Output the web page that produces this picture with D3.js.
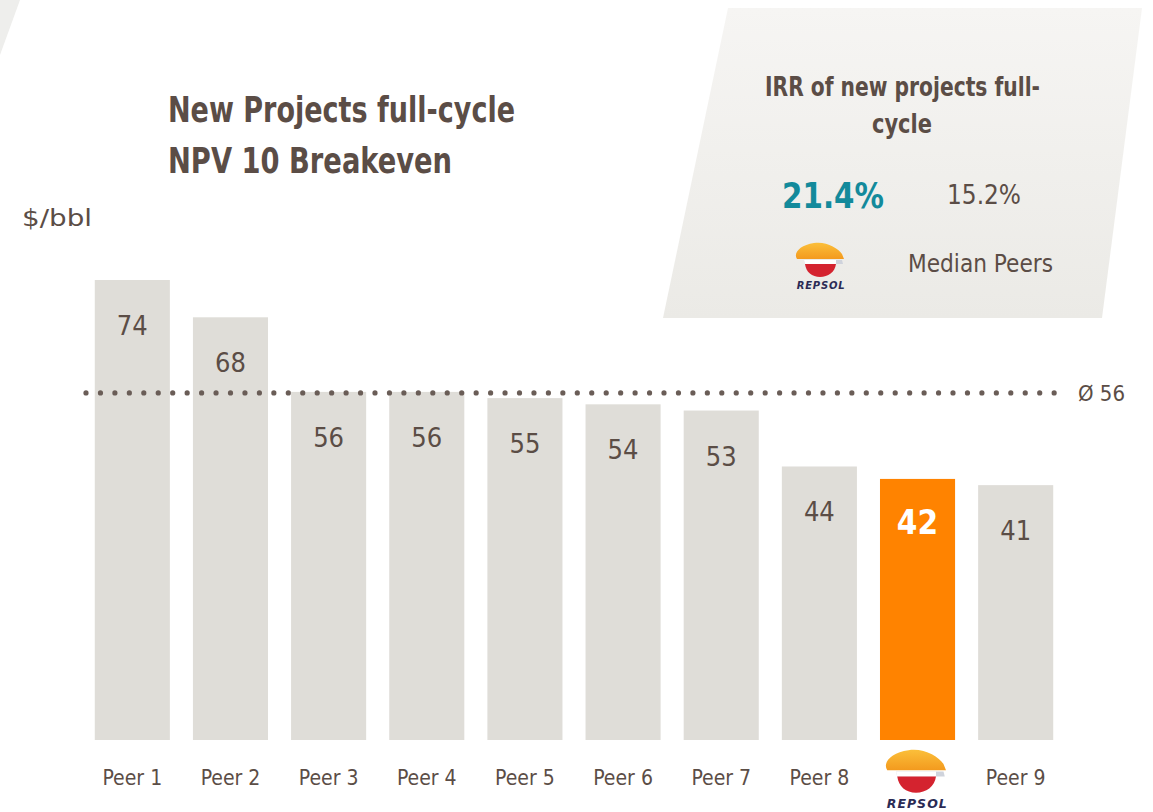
<!DOCTYPE html>
<html>
<head>
<meta charset="utf-8">
<script src="https://cdn.jsdelivr.net/npm/d3@7"></script>
<style>
  body { margin: 0; background: #fff; }
  text { font-family: "DejaVu Sans Condensed", "Liberation Sans", sans-serif; }
</style>
</head>
<body>
<div id="chart"></div>
<script>
// data
const categories = ["Peer 1", "Peer 2", "Peer 3", "Peer 4", "Peer 5", "Peer 6", "Peer 7", "Peer 8", "Repsol", "Peer 9"];
const breakeven = [74, 68, 56, 56, 55, 54, 53, 44, 42, 41];
const averageValue = 56;
const irrRepsol = "21.4%";
const irrMedian = "15.2%";

const W = 1153, H = 812;
const textColor = "#5b4d46";

var svg = d3.select("#chart").append("svg").attr("width", W).attr("height", H);

// helper for squeezed text
function label(x, y, txt, size, len, opts) {
  opts = opts || {};
  var t = svg.append("text")
    .attr("x", x).attr("y", y)
    .attr("font-size", size)
    .attr("font-weight", opts.bold ? "bold" : "normal")
    .attr("fill", opts.color || textColor)
    .attr("text-anchor", opts.anchor || "start")
    .text(txt);
  if (len) t.attr("textLength", len).attr("lengthAdjust", "spacingAndGlyphs");
  return t;
}

// background shapes
svg.append("path")
  .attr("d", "M0,0 L20,0 L0,55 Z")
  .attr("fill", "#eeeeec");

var grad = svg.append("defs").append("linearGradient")
  .attr("id", "boxgrad").attr("x1", 0).attr("y1", 0).attr("x2", 0).attr("y2", 1);
grad.append("stop").attr("offset", "0%").attr("stop-color", "#f6f5f3");
grad.append("stop").attr("offset", "100%").attr("stop-color", "#ebeae6");

svg.append("path")
  .attr("d", "M728,8 L1142,8 L1102,318 L663,318 Z")
  .attr("fill", "url(#boxgrad)");

// scales
var x = d3.scaleBand().domain(categories).range([83, 1065]).paddingInner(0.235).paddingOuter(0.12);
var y = d3.scaleLinear().domain([0, 74]).range([740, 280]);

// bars
svg.selectAll(".bar")
  .data(breakeven)
  .enter().append("rect")
  .attr("x", (d, i) => x(categories[i]))
  .attr("y", d => y(d))
  .attr("width", x.bandwidth())
  .attr("height", d => y(0) - y(d))
  .attr("fill", (d, i) => categories[i] == "Repsol" ? "#ff8300" : "#dfddd8");

// value labels
svg.selectAll(".val")
  .data(breakeven)
  .enter().append("text")
  .attr("x", (d, i) => x(categories[i]) + x.bandwidth() / 2)
  .attr("y", d => y(d) + 55)
  .attr("text-anchor", "middle")
  .attr("font-size", (d, i) => categories[i] == "Repsol" ? 33 : 27)
  .attr("font-weight", (d, i) => categories[i] == "Repsol" ? "bold" : "normal")
  .attr("fill", (d, i) => categories[i] == "Repsol" ? "#fff" : textColor)
  .text(d => d);

// average dotted line
var dots = d3.range(86, 1063, 14.45);
svg.selectAll(".dot")
  .data(dots)
  .enter().append("circle")
  .attr("cx", d => d)
  .attr("cy", y(averageValue) + 1)
  .attr("r", 2.6)
  .attr("fill", "#6a5d57");

label(1078, y(averageValue) + 9, "Ø 56", 22, 47);

// category labels
svg.selectAll(".cat")
  .data(categories.filter(c => c != "Repsol"))
  .enter().append("text")
  .attr("x", d => x(d) + x.bandwidth() / 2)
  .attr("y", 785)
  .attr("text-anchor", "middle")
  .attr("font-size", 21)
  .attr("fill", textColor)
  .text(d => d);

// titles
label(168, 122, "New Projects full-cycle", 36, 347, { bold: true });
label(168, 173, "NPV 10 Breakeven", 36, 284, { bold: true });
label(22, 226, "$/bbl", 23, 70);

// info box
label(765, 96, "IRR of new projects full-", 27, 275, { bold: true });
label(872, 133, "cycle", 27, 60, { bold: true });
label(782, 208, irrRepsol, 35, 102, { bold: true, color: "#138a9b" });
label(947, 204, irrMedian, 26, 74);
label(908, 272, "Median Peers", 25, 145);

// repsol logo
function drawLogo(cx, cy, s) {
  var g = svg.append("g").attr("transform", "translate(" + cx + "," + cy + ") scale(" + s + ")");
  var lg = g.append("linearGradient").attr("id", "cap" + cx).attr("x1", 0).attr("y1", 0).attr("x2", 0).attr("y2", 1);
  lg.append("stop").attr("offset", "0%").attr("stop-color", "#fbbf3a");
  lg.append("stop").attr("offset", "100%").attr("stop-color", "#f39a1e");
  // cap
  g.append("path")
    .attr("d", "M-23,-3 C-27,-9 -20,-17 -6,-19 C6,-21 18,-14 22,-8 L24,-3 Z")
    .attr("fill", "url(#cap" + cx + ")");
  // band
  g.append("path")
    .attr("d", "M-16,-2 L22,-2 L23,2 L-15,2 Z")
    .attr("fill", "#cfd3dc");
  g.append("path")
    .attr("d", "M-16,-2 L16,-2 L16,2 L-15,2 Z")
    .attr("fill", "#fff");
  // red bowl
  g.append("path")
    .attr("d", "M-15,2 L16,2 C15,10 8,15 0,15 C-8,15 -14,10 -15,2 Z")
    .attr("fill", "#d4232f");
  g.append("text")
    .attr("x", 1).attr("y", 27).attr("text-anchor", "middle")
    .attr("font-size", 10).attr("font-weight", "bold").attr("font-style", "italic")
    .attr("fill", "#2b2b55").attr("letter-spacing", 0.8)
    .style("font-family", "DejaVu Sans, sans-serif")
    .text("REPSOL");
}
drawLogo(820, 262, 1.0);
drawLogo(916, 774, 1.25);
</script>
</body>
</html>
